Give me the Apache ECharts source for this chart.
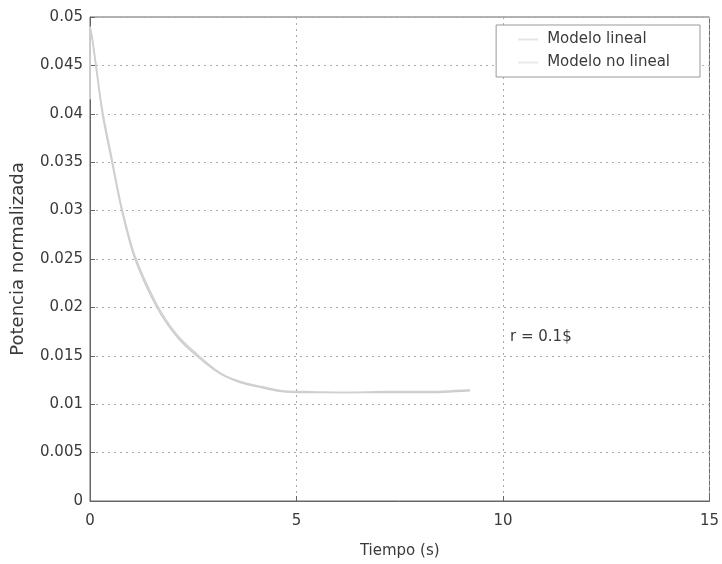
<!DOCTYPE html>
<html>
<head>
<meta charset="utf-8">
<script src="https://cdn.jsdelivr.net/npm/echarts@6/dist/echarts.min.js"></script>
<style>
  html, body { margin: 0; padding: 0; background: #fff; }
  #chart { width: 722px; height: 564px; }
</style>
</head>
<body>
<div id="chart"></div>
<script>
// Normalised power response over time, linear vs. nonlinear model
const tiempo = [0, 0, 0.05, 0.14, 0.30, 0.53, 0.77, 1.09, 1.62, 2.10, 2.58, 3.13, 3.60, 4.17, 4.65, 5.20, 6.27, 7.20, 8.10, 9.20];
const modeloLineal = [0.0415, 0.0490, 0.0478, 0.0450, 0.0400, 0.0350, 0.0300, 0.0250, 0.0200, 0.0170, 0.0150, 0.0132, 0.0123, 0.0117, 0.0113, 0.0112, 0.0112, 0.0112, 0.0112, 0.0114];
const modeloNoLineal = [0.0415, 0.0490, 0.0480, 0.0453, 0.0404, 0.0354, 0.0303, 0.0253, 0.0203, 0.0172, 0.0152, 0.0133, 0.0124, 0.0118, 0.0114, 0.0113, 0.0112, 0.0113, 0.0113, 0.0115];
const xTicks = [0, 5, 10, 15];
const yMax = 0.05;
const yStep = 0.005;
const nombres = ['Modelo lineal', 'Modelo no lineal'];
const anotacion = 'r = 0.1$';

const pares = (xs, ys) => xs.map((x, i) => [x, ys[i]]);
const fuente = 'DejaVu Sans, sans-serif';
const textoColor = '#3a3a3a';

const chart = echarts.init(document.getElementById('chart'));
chart.setOption({
  animation: false,
  backgroundColor: '#ffffff',
  grid: { left: 90, right: 10, top: 17, bottom: 56, show: true, borderColor: '#666', borderWidth: 1 },
  legend: {
    data: nombres,
    orient: 'vertical',
    right: 22,
    top: 25,
    padding: [7, 30, 7, 22],
    itemGap: 8,
    itemWidth: 20,
    itemHeight: 2,
    icon: 'rect',
    backgroundColor: '#fff',
    borderColor: '#999',
    borderWidth: 1,
    textStyle: { fontFamily: fuente, fontSize: 15, color: textoColor, padding: [0, 0, 0, 4] }
  },
  xAxis: {
    type: 'value',
    min: xTicks[0],
    max: xTicks[xTicks.length - 1],
    interval: 5,
    name: 'Tiempo (s)',
    nameLocation: 'middle',
    nameGap: 43,
    nameTextStyle: { fontFamily: fuente, fontSize: 15, color: textoColor },
    axisLine: { show: true, lineStyle: { color: '#666' } },
    axisTick: { inside: true, length: 5, lineStyle: { color: '#666' } },
    axisLabel: { fontFamily: fuente, fontSize: 15, color: textoColor, margin: 13 },
    splitLine: { show: true, lineStyle: { type: [2, 4], color: '#aaa' } }
  },
  yAxis: {
    type: 'value',
    min: 0,
    max: yMax,
    interval: yStep,
    name: 'Potencia normalizada',
    nameLocation: 'middle',
    nameGap: 63,
    nameTextStyle: { fontFamily: fuente, fontSize: 18, color: textoColor },
    axisLine: { show: true, lineStyle: { color: '#666' } },
    axisTick: { inside: true, length: 5, lineStyle: { color: '#666' } },
    axisLabel: {
      fontFamily: fuente, fontSize: 15, color: textoColor, margin: 7,
      formatter: v => String(parseFloat(v.toFixed(3)))
    },
    splitLine: { show: true, lineStyle: { type: [2, 4], color: '#aaa' } }
  },
  series: [
    {
      name: nombres[0],
      type: 'line',
      data: pares(tiempo, modeloLineal),
      showSymbol: false,
      smooth: 0.3,
      lineStyle: { width: 1.5, color: '#c9cdc9' },
      itemStyle: { color: '#e4e6e4' }
    },
    {
      name: nombres[1],
      type: 'line',
      data: pares(tiempo, modeloNoLineal),
      showSymbol: false,
      smooth: 0.3,
      lineStyle: { width: 1.5, color: '#d4cfcf' },
      itemStyle: { color: '#ece8e8' }
    }
  ],
  graphic: [
    {
      type: 'text',
      left: 510,
      top: 330,
      style: { text: anotacion, fontFamily: fuente, fontSize: 15, fill: textoColor }
    }
  ]
});
</script>
</body>
</html>
